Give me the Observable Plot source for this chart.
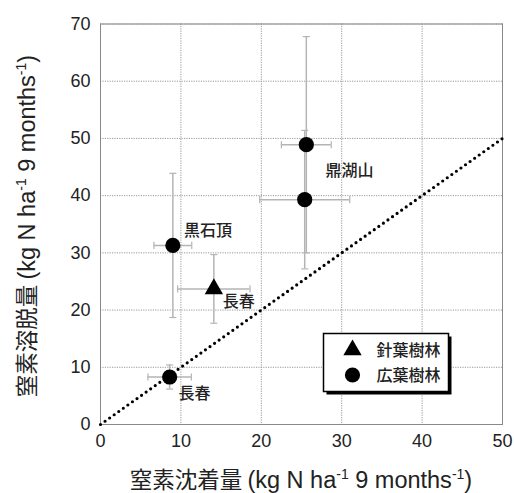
<!DOCTYPE html>
<html><head><meta charset="utf-8">
<script src="https://cdn.jsdelivr.net/npm/d3@7"></script>
<script src="https://cdn.jsdelivr.net/npm/@observablehq/plot@0.6"></script>
<style>
body{margin:0;background:#fff;}
</style>
</head><body><div id="chart"></div>
<script>
// data
const sites   = ["鼎湖山", "鼎湖山", "黒石頂", "長春", "長春"];
const forest  = ["広葉樹林", "広葉樹林", "広葉樹林", "針葉樹林", "広葉樹林"];
const deposit = [25.6, 25.4, 9.0, 14.1, 8.6];   // x
const depErr  = [3.1, 5.6, 2.35, 4.5, 2.7];
const leach   = [48.9, 39.3, 31.3, 23.7, 8.3];  // y
const leachErr= [18.9, 12.1, 12.6, 6.0, 2.1];

const labelText = ["鼎湖山", "黒石頂", "長春", "長春"];
const labelX    = [28.0, 10.4, 15.2, 9.7];
const labelY    = [44.4, 33.9, 21.4, 5.4];

const xTicks = [0, 10, 20, 30, 40, 50];
const yTicks = [0, 10, 20, 30, 40, 50, 60, 70];
const oneToOne = [[0, 0], [50, 50]];
const legendItems = ["針葉樹林", "広葉樹林"];

const data = sites.map((s, i) => ({site: s, forest: forest[i], x: deposit[i], ex: depErr[i], y: leach[i], ey: leachErr[i]}));
const labels = labelText.map((t, i) => ({t, x: labelX[i], y: labelY[i]}));

const hCap = {draw(ctx, size){ const r = Math.sqrt(size); ctx.moveTo(-r, 0); ctx.lineTo(r, 0); }};
const vCap = {draw(ctx, size){ const r = Math.sqrt(size); ctx.moveTo(0, -r); ctx.lineTo(0, r); }};

const errColor = "#b4b4b4";
const cjk = "'Noto Sans CJK JP', sans-serif";
const latin = "'Liberation Sans', Arial, sans-serif";

const plot = Plot.plot({
  width: 514, height: 493,
  marginLeft: 100, marginRight: 12, marginTop: 23.5, marginBottom: 69,
  style: {fontFamily: latin, fontSize: "18px", background: "#fff", color: "#222"},
  x: {domain: [0, 50], ticks: xTicks, tickSize: 0, tickPadding: 10, label: null},
  y: {domain: [0, 70], ticks: yTicks, tickSize: 0, tickPadding: 10, label: null},
  symbol: {domain: legendItems, range: ["triangle", "circle"]},
  marks: [
    Plot.ruleX(xTicks, {stroke: "#999", strokeDasharray: "1.2,1.2", strokeWidth: 1}),
    Plot.ruleY(yTicks, {stroke: "#999", strokeDasharray: "1.2,1.2", strokeWidth: 1}),
    Plot.frame({stroke: "#888", strokeWidth: 1}),
    // error bars
    Plot.ruleX(data, {x: "x", y1: d => d.y - d.ey, y2: d => d.y + d.ey, stroke: errColor, strokeWidth: 1.5}),
    Plot.ruleY(data, {y: "y", x1: d => d.x - d.ex, x2: d => d.x + d.ex, stroke: errColor, strokeWidth: 1.5}),
    Plot.dot(data, {x: "x", y: d => d.y + d.ey, symbol: hCap, r: 2, stroke: errColor, strokeWidth: 1.2, fill: "none"}),
    Plot.dot(data, {x: "x", y: d => d.y - d.ey, symbol: hCap, r: 2, stroke: errColor, strokeWidth: 1.2, fill: "none"}),
    Plot.dot(data, {x: d => d.x + d.ex, y: "y", symbol: vCap, r: 2, stroke: errColor, strokeWidth: 1.2, fill: "none"}),
    Plot.dot(data, {x: d => d.x - d.ex, y: "y", symbol: vCap, r: 2, stroke: errColor, strokeWidth: 1.2, fill: "none"}),
    // 1:1 line
    Plot.line(oneToOne, {x: d => d[0], y: d => d[1], stroke: "#000", strokeWidth: 3.2, strokeDasharray: "0,5.6", strokeLinecap: "round"}),
    // points
    Plot.dot(data.filter(d => d.forest === "針葉樹林"), {x: "x", y: "y", symbol: "forest", r: 6.8, fill: "#000", stroke: "none"}),
    Plot.dot(data.filter(d => d.forest === "広葉樹林"), {x: "x", y: "y", symbol: "forest", r: 7.6, fill: "#000", stroke: "none"}),
    Plot.text(labels, {x: "x", y: "y", text: "t", textAnchor: "start", fontSize: 16, fontFamily: cjk, fill: "#222", fontWeight: 500})
  ]
});

const svg = d3.select(plot);
// axis titles with superscripts
function axisTitle(g, cjkText) {
  g.append("tspan").attr("font-family", cjk).attr("font-size", 22.5).text(cjkText + " ");
  g.append("tspan").text("(kg N ha");
  g.append("tspan").attr("dy", -9).attr("font-size", 14).text("-1");
  g.append("tspan").attr("dy", 9).text(" 9 months");
  g.append("tspan").attr("dy", -9).attr("font-size", 14).text("-1");
  g.append("tspan").attr("dy", 9).text(")");
}
const xt = svg.append("text").attr("x", 301).attr("y", 488).attr("text-anchor", "middle")
  .attr("font-size", 23.5).attr("fill", "#222").attr("font-family", latin);
axisTitle(xt, "窒素沈着量");
const yt = svg.append("text").attr("transform", "translate(35,226) rotate(-90)").attr("text-anchor", "middle")
  .attr("font-size", 23.5).attr("fill", "#222").attr("font-family", latin);
axisTitle(yt, "窒素溶脱量");

// legend
const lg = svg.append("g").attr("transform", "translate(323.5,333.5)");
lg.append("rect").attr("x", 3).attr("y", 3).attr("width", 125).attr("height", 58).attr("fill", "#000");
lg.append("rect").attr("x", 0).attr("y", 0).attr("width", 125).attr("height", 58).attr("fill", "#fff").attr("stroke", "#000").attr("stroke-width", 1.5);
legendItems.forEach((name, i) => {
  const cy = 16.5 + i * 25;
  const sym = i === 0 ? d3.symbolTriangle : d3.symbolCircle;
  const size = Math.PI * Math.pow(i === 0 ? 6.8 : 7.6, 2);
  lg.append("path").attr("d", d3.symbol(sym, size)()).attr("transform", `translate(29,${cy})`).attr("fill", "#000");
  lg.append("text").attr("x", 53).attr("y", cy).attr("dy", "0.35em").attr("font-size", 16).attr("text-anchor", "start")
    .attr("font-family", cjk).attr("fill", "#222").attr("font-weight", 500).text(name);
});

document.getElementById("chart").appendChild(plot);
</script>
</body></html>
